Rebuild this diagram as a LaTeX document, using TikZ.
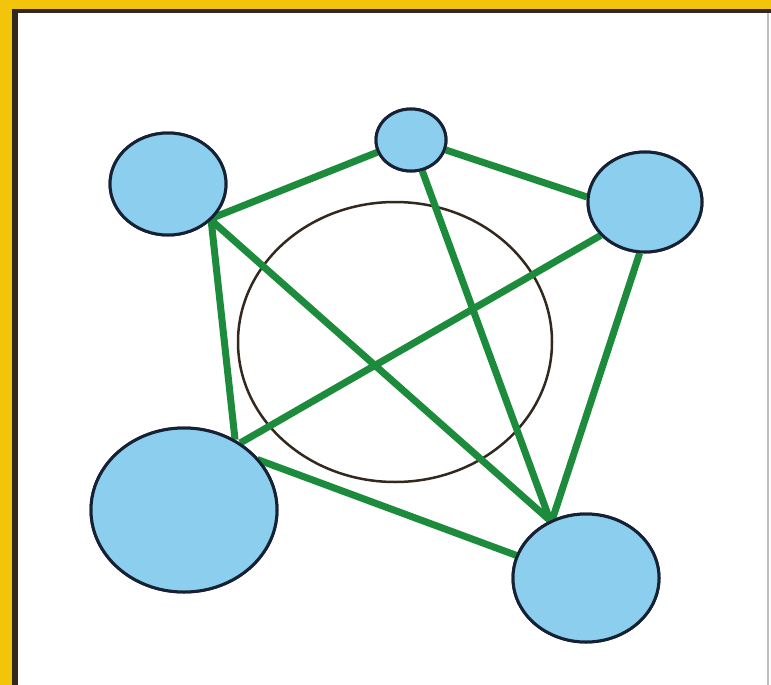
\documentclass[tikz,border=0pt]{standalone}
\usetikzlibrary{shapes.geometric}
\definecolor{frameyellow}{RGB}{242,197,10}
\definecolor{framedark}{RGB}{50,40,30}
\definecolor{nodeblue}{RGB}{140,206,238}
\definecolor{nodeline}{RGB}{22,34,52}
\definecolor{edgegreen}{RGB}{28,140,60}
\tikzset{
  vertex/.style={ellipse, draw=nodeline, line width=3pt, fill=nodeblue, inner sep=0pt},
  link/.style={draw=edgegreen, line width=7pt},
  ring/.style={ellipse, draw=framedark, line width=2.5pt, inner sep=0pt}
}
\begin{document}
\begin{tikzpicture}[x=1pt,y=-1pt]
\useasboundingbox (0,0) rectangle (771,685);
% frame
\fill[frameyellow] (0,0) rectangle (771,685);
\fill[white] (12,9) rectangle (771,685);
\draw[framedark, line width=6pt] (15,9) -- (15,685);
\draw[framedark, line width=4pt] (12,11) -- (771,11);
\draw[black!25, line width=1.5pt] (768,13) -- (768,685);
% central ring
\node[ring, minimum width=314pt, minimum height=280pt] (ring) at (395,342) {};
% vertices (define positions)
\path
  node[vertex, minimum width=116pt, minimum height=102pt] (tl) at (168,184) {}
  node[vertex, minimum width=70pt, minimum height=62pt] (top) at (411,140) {}
  node[vertex, minimum width=114pt, minimum height=100pt] (tr) at (645,202) {}
  node[vertex, minimum width=186pt, minimum height=164pt] (bl) at (184,510) {}
  node[vertex, minimum width=146pt, minimum height=128pt] (br) at (586,578) {};
% edges
\path[link, shorten <=-3pt, shorten >=-3pt]
  (tl.-36) -- (top.200)
  (tl.-40) -- (bl.54)
  (tl.-40) -- (br.122)
  (top.-16) -- (tr.175)
  (top.-70) -- (br.122)
  (tr.217) -- (bl.50)
  (tr.-96) -- (br.120)
  (bl.33) -- (br.162);
% redraw vertices on top of the edges
\node[vertex, minimum width=116pt, minimum height=102pt] at (tl.center) {};
\node[vertex, minimum width=70pt, minimum height=62pt] at (top.center) {};
\node[vertex, minimum width=114pt, minimum height=100pt] at (tr.center) {};
\node[vertex, minimum width=186pt, minimum height=164pt] at (bl.center) {};
\node[vertex, minimum width=146pt, minimum height=128pt] at (br.center) {};
\end{tikzpicture}
\end{document}
